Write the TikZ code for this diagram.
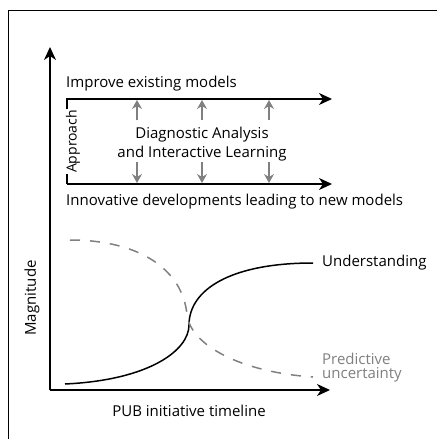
\documentclass[tikz,border=0pt]{standalone}
\usepackage{fontspec}
\setmainfont{Open Sans}
\usetikzlibrary{arrows.meta}
\usetikzlibrary{calc}

\begin{document}
\begin{tikzpicture}[x=1pt, y=-1pt,
  line/.style={>={Stealth[length=13pt, width=12pt, inset=4pt]}, line width=1.5pt},
  help/.style={->, >={Stealth[length=9pt, width=10pt, inset=3pt]}, line width=2pt, color=black!50},
  txt/.style={font=\fontsize{15}{18}\selectfont, inner sep=0pt}]
\useasboundingbox (0, 0) rectangle (437, 439);
\coordinate (F1) at (8, 439);
\coordinate (F2) at (8, 10);
\coordinate (F3) at (437, 10);
\draw[line width=1pt] (F1) -- (F2) -- (F3);

% axes
\coordinate (O) at (50, 390);
\coordinate (Y) at (50, 47);
\coordinate (X) at (330, 390);
\draw[->, line] (O) -- (Y);
\draw[->, line] (O) -- (X);
\node[txt, rotate=90] (mag) at (32, 298) {Magnitude};
\node[txt] (time) at (189, 411) {PUB initiative timeline};

% approach
\coordinate (A1) at (67, 99);
\coordinate (A2) at (332, 99);
\coordinate (B1) at (67, 184);
\coordinate (B2) at (332, 184);
\draw[->, line] (B1) -- (A1) -- (A2);
\draw[->, line] (B1) -- (B2);
\node[txt, font=\fontsize{14}{16}\selectfont, rotate=90, fill=white, inner sep=1pt] (appr) at ($(A1)!0.5!(B1) + (6, 0)$) {Approach};
\node[txt, anchor=west] (improve) at (66, 84) {Improve existing models};
\node[txt, anchor=west] (innov) at (66, 202) {Innovative developments leading to new models};
\node[txt] (diag) at (202, 135) {Diagnostic Analysis};
\node[txt] (inter) at (202, 154) {and Interactive Learning};
\foreach \x in {137, 202, 269} {
  \draw[help] (\x, 120) -- (\x, 100);
  \draw[help] (\x, 162) -- (\x, 183);
}

% curves
\coordinate (U0) at (65, 384);
\coordinate (U1) at (189, 325);
\coordinate (U2) at (313, 263);
\draw[line width=1.5pt] (U0) .. controls (150, 380) and (189, 350) .. (U1)
  .. controls (189, 290) and (230, 263) .. (U2);
\node[txt, anchor=west] (under) at (322, 263) {Understanding};
\coordinate (P0) at (70, 240);
\coordinate (P1) at (187, 315);
\coordinate (P2) at (313, 377);
\draw[line width=1.5pt, color=black!50, dash pattern=on 10pt off 10pt] (P0) .. controls (140, 240) and (183, 270) .. (P1)
  .. controls (191, 345) and (240, 372) .. (P2);
\node[txt, anchor=west, color=black!50, align=left] (pred) at (322, 368) {Predictive\\[-4pt]uncertainty};
\end{tikzpicture}
\end{document}
